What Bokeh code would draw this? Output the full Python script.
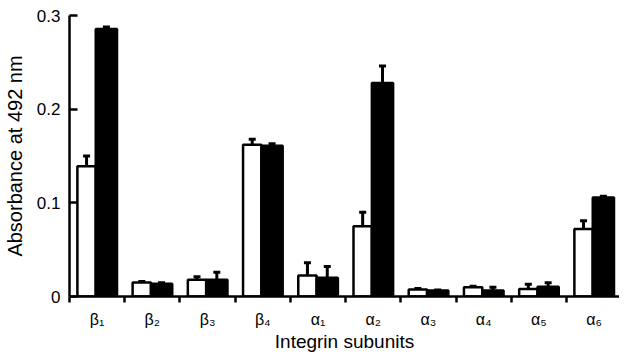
from bokeh.plotting import figure
from bokeh.models import Range1d, FixedTicker, ColumnDataSource, Whisker, TeeHead
from bokeh.embed import file_html
from bokeh.resources import INLINE

# ---- data ----
categories = ["β₁", "β₂", "β₃", "β₄", "α₁", "α₂", "α₃", "α₄", "α₅", "α₆"]
open_vals = [0.139, 0.015, 0.018, 0.162, 0.0225, 0.075, 0.0075, 0.010, 0.008, 0.072]
open_err = [0.011, 0.001, 0.003, 0.006, 0.0135, 0.015, 0.001, 0.001, 0.005, 0.009]
filled_vals = [0.2856, 0.0136, 0.018, 0.161, 0.020, 0.228, 0.0064, 0.0064, 0.0104, 0.1056]
filled_err = [0.002, 0.001, 0.008, 0.002, 0.012, 0.018, 0.0005, 0.0036, 0.0042, 0.0015]
y_ticks = [0, 0.1, 0.2, 0.3]
y_tick_labels = ["0", "0.1", "0.2", "0.3"]

FONT = "Liberation Sans"

n = len(categories)
pos = list(range(n))
open_x = [i - 0.191 for i in pos]
filled_x = [i + 0.168 for i in pos]

p = figure(width=619, height=354, output_backend="svg", toolbar_location=None,
           x_range=Range1d(-0.5, 9.46), y_range=Range1d(0, 0.3),
           min_border_left=63, min_border_right=0, min_border_top=15, min_border_bottom=40)
p.outline_line_color = None
p.grid.visible = False
p.background_fill_color = "white"

src_open = ColumnDataSource(dict(x=open_x, top=open_vals,
                                 upper=[v + e for v, e in zip(open_vals, open_err)]))
src_filled = ColumnDataSource(dict(x=filled_x, top=filled_vals,
                                   upper=[v + e for v, e in zip(filled_vals, filled_err)]))

for src in (src_open, src_filled):
    w = Whisker(source=src, base="x", lower="top", upper="upper",
                line_color="black", line_width=3,
                upper_head=TeeHead(size=7, line_width=3, line_color="black"),
                lower_head=None, level="underlay")
    p.add_layout(w)

p.vbar(x="x", top="top", bottom=0, width=0.332, source=src_open,
       fill_color="white", line_color="black", line_width=2.5)
p.vbar(x="x", top="top", bottom=0, width=0.385, source=src_filled,
       fill_color="black", line_color="black", line_width=2.5)

# x axis: labels at group centres, tick marks between groups
xa = p.xaxis[0]
xa.ticker = FixedTicker(ticks=pos, minor_ticks=[i - 0.5 for i in range(n + 1)])
xa.major_label_overrides = {i: c for i, c in zip(pos, categories)}
xa.major_tick_out = 0
xa.major_tick_in = 0
xa.minor_tick_out = 6
xa.minor_tick_in = 0
xa.minor_tick_line_width = 2.5
xa.minor_tick_line_color = "black"
xa.axis_line_width = 2.5
xa.axis_line_color = "black"
xa.major_label_standoff = 8
xa.major_label_text_font = FONT
xa.major_label_text_font_size = "16px"
xa.major_label_text_color = "black"
xa.axis_label = "Integrin subunits"
xa.axis_label_text_font = FONT
xa.axis_label_text_font_size = "19px"
xa.axis_label_text_font_style = "normal"
xa.axis_label_text_color = "black"
xa.axis_label_standoff = 0

ya = p.yaxis[0]
ya.ticker = FixedTicker(ticks=y_ticks, minor_ticks=[])
ya.major_label_overrides = {t: l for t, l in zip(y_ticks, y_tick_labels)}
ya.major_tick_in = 8
ya.major_tick_out = 0
ya.minor_tick_in = 0
ya.minor_tick_out = 0
ya.major_tick_line_width = 2.5
ya.axis_line_width = 2.5
ya.axis_line_color = "black"
ya.major_tick_line_color = "black"
ya.major_label_standoff = 9
ya.major_label_text_font = FONT
ya.major_label_text_font_size = "17px"
ya.major_label_text_color = "black"
ya.axis_label = "Absorbance at 492 nm"
ya.axis_label_text_font = FONT
ya.axis_label_text_font_size = "20px"
ya.axis_label_text_font_style = "normal"
ya.axis_label_text_color = "black"
ya.axis_label_standoff = 8

open("out.html", "w").write(file_html(p, INLINE))
